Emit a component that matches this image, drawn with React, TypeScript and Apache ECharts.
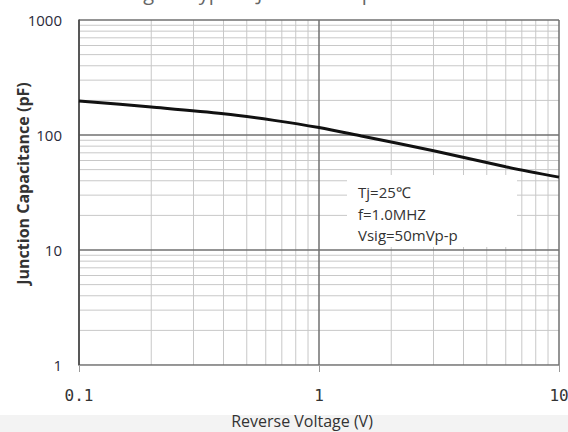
import { useEffect, useRef } from "react";
import * as echarts from "echarts";

// Data
const voltage = [0.1, 0.2, 0.4, 0.65, 1, 1.5, 3, 6, 10];
const capacitance = [198, 175, 153, 134, 116, 98, 73, 53, 43];

// Axis ticks
const xMajorTicks = [0.1, 1, 10];
const yMajorTicks = [1, 10, 100, 1000];
const minorSteps = [2, 3, 4, 5, 6, 7, 8, 9];

const conditions = ["Tj=25\u2103", "f=1.0MHZ", "Vsig=50mVp-p"];
const titleText = "Fig.2 - Typical Junction Capacitance";

export default function App() {
  const ref = useRef<HTMLDivElement>(null);
  useEffect(() => {
    document.body.style.margin = "0";
    const chart = echarts.init(ref.current!, null, { renderer: "svg" });
    const xMin = xMajorTicks[0];
    const xMax = xMajorTicks[xMajorTicks.length - 1];
    const yMin = yMajorTicks[0];
    const yMax = yMajorTicks[yMajorTicks.length - 1];

    const gridLines: number[][] = [];
    // minor lines first
    xMajorTicks.slice(0, -1).forEach((d) =>
      minorSteps.forEach((m) => gridLines.push([d * m, yMin, 0, 0]))
    );
    yMajorTicks.slice(0, -1).forEach((d) =>
      minorSteps.forEach((m) => gridLines.push([xMin, d * m, 1, 0]))
    );
    // major lines on top
    xMajorTicks.forEach((v) => gridLines.push([v, yMin, 0, 1]));
    yMajorTicks.forEach((v) => gridLines.push([xMin, v, 1, 1]));

    const fmt = (v: number) => String(Number(v.toPrecision(6)));

    chart.setOption({
      animation: false,
      backgroundColor: "transparent",
      grid: {
        left: 79,
        right: 9,
        top: 20,
        bottom: 67,
        containLabel: false,
        outerBoundsMode: "none",
      },
      xAxis: {
        type: "log",
        logBase: 10,
        min: xMin,
        max: xMax,
        name: "Reverse Voltage (V)",
        nameLocation: "middle",
        nameGap: 48,
        nameMoveOverlap: false,
        nameTextStyle: {
          fontFamily: "Open Sans",
          fontSize: 16,
          color: "#333",
          padding: [0, 34, 0, 0],
        },
        axisLine: { show: true, lineStyle: { color: "#9a9a9a", width: 1 } },
        axisTick: { show: true, length: 7, lineStyle: { color: "#9a9a9a" } },
        axisLabel: {
          margin: 22,
          fontFamily: "DejaVu Sans Mono",
          fontSize: 16,
          color: "#333",
          showMinLabel: true,
          showMaxLabel: true,
          formatter: fmt,
        },
        splitLine: { show: false },
        z: 3,
      },
      yAxis: {
        type: "log",
        logBase: 10,
        min: yMin,
        max: yMax,
        name: "Junction Capacitance (pF)",
        nameLocation: "middle",
        nameGap: 48,
        nameMoveOverlap: false,
        nameTextStyle: {
          fontFamily: "Open Sans",
          fontWeight: "bold",
          fontSize: 16,
          color: "#333",
          padding: [0, 0, 0, 18],
        },
        axisLine: { show: true, lineStyle: { color: "#444", width: 1.5 } },
        axisTick: { show: false },
        axisLabel: {
          margin: 17,
          fontFamily: "Open Sans",
          fontSize: 15,
          color: "#2a2a3a",
          showMinLabel: true,
          showMaxLabel: true,
          formatter: fmt,
        },
        splitLine: { show: false },
        z: 3,
      },
      graphic: [
        {
          type: "rect",
          shape: { x: 347, y: 175, width: 170, height: 72 },
          style: { fill: "#ffffff" },
          z: 50,
        },
        ...conditions.map((t, i) => ({
          type: "text",
          x: 358,
          y: 192 + i * 21.5,
          style: {
            text: t,
            fontFamily: "Open Sans",
            fontSize: 15,
            fill: "#333",
            verticalAlign: "middle",
          },
          z: 51,
        })),
        {
          type: "text",
          x: 128,
          y: 2,
          style: {
            text: titleText,
            fontFamily: "Open Sans",
            fontSize: 20,
            fill: "#666",
            verticalAlign: "bottom",
          },
          z: 51,
        },
      ],
      series: [
        {
          type: "custom",
          coordinateSystem: "cartesian2d",
          silent: true,
          z: 1,
          encode: { x: 0, y: 1 },
          data: gridLines,
          renderItem: (params: any, api: any) => {
            const orient = api.value(2);
            const major = api.value(3);
            let p1: number[];
            let p2: number[];
            if (orient === 0) {
              const v = api.value(0);
              p1 = api.coord([v, yMin]);
              p2 = api.coord([v, yMax]);
            } else {
              const v = api.value(1);
              p1 = api.coord([xMin, v]);
              p2 = api.coord([xMax, v]);
            }
            return {
              type: "line",
              shape: { x1: p1[0], y1: p1[1], x2: p2[0], y2: p2[1] },
              style: {
                stroke: major ? "#707070" : "#c8c8c8",
                lineWidth: major ? 1.5 : 1,
              },
            };
          },
        },
        {
          type: "line",
          z: 100,
          smooth: 0.3,
          showSymbol: false,
          silent: true,
          data: voltage.map((v, i) => [v, capacitance[i]]),
          lineStyle: { color: "#111", width: 3 },
        },
      ],
    });
    return () => chart.dispose();
  }, []);
  return (
    <div
      ref={ref}
      style={{
        width: 568,
        height: 432,
        background: "linear-gradient(to bottom, #ffffff 415px, #f3f3f3 415px)",
      }}
    />
  );
}
